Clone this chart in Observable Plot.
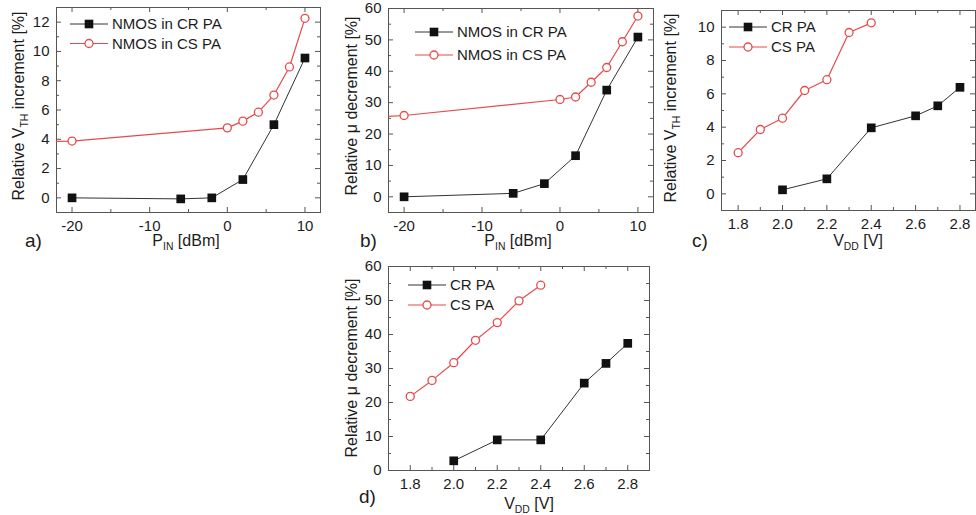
<!DOCTYPE html>
<html><head><meta charset="utf-8">
<script src="https://cdn.jsdelivr.net/npm/d3@7"></script>
<script src="https://cdn.jsdelivr.net/npm/@observablehq/plot@0.6"></script>
<style>
body{margin:0;background:#fff;}
#root{position:relative;width:976px;height:515px;overflow:hidden;font-family:"Liberation Sans",Arial,sans-serif;}
#root svg{position:absolute;}
</style></head><body><div id="root"></div>
<script>
// ---- data ----
const pinCR = [-20, -6, -2, 2, 6, 10];
const pinCS = [-30, -20, 0, 2, 4, 6, 8, 10];
const vthCR_pin = [0, -0.07, 0, 1.25, 5.0, 9.55];
const vthCS_pin = [3.75, 3.88, 4.78, 5.24, 5.85, 7.02, 8.94, 12.26];
const muCR_pin = [0, 1.1, 4.2, 13.1, 34.0, 50.9];
const muCS_pin = [24.5, 25.9, 31.0, 31.8, 36.5, 41.2, 49.4, 57.6];
const vddCR = [2.0, 2.2, 2.4, 2.6, 2.7, 2.8];
const vddCS = [1.8, 1.9, 2.0, 2.1, 2.2, 2.3, 2.4];
const vthCR_vdd = [0.24, 0.9, 3.96, 4.68, 5.28, 6.39];
const vthCS_vdd = [2.47, 3.86, 4.54, 6.2, 6.85, 9.68, 10.26];
const muCR_vdd = [2.85, 9.0, 9.0, 25.7, 31.5, 37.4];
const muCS_vdd = [21.8, 26.5, 31.7, 38.3, 43.5, 49.9, 54.5];

const pinTicks = [-20, -10, 0, 10];
const pinMinor = [-15, -5, 5];
const vddTicks = [1.8, 2.0, 2.2, 2.4, 2.6, 2.8];
const vddMinor = [1.9, 2.1, 2.3, 2.5, 2.7];
const vthTicksA = [0, 2, 4, 6, 8, 10, 12];
const vthMinorA = [1, 3, 5, 7, 9, 11];
const vthTicksC = [0, 2, 4, 6, 8, 10];
const vthMinorC = [1, 3, 5, 7, 9];
const muTicks = [0, 10, 20, 30, 40, 50, 60];
const muMinor = [5, 15, 25, 35, 45, 55];

const legendPin = ["NMOS in CR PA", "NMOS in CS PA"];
const legendVdd = ["CR PA", "CS PA"];

const BLACK = "#111", LINE = "#333", RED = "#e64a4a", AXIS = "#555", TXT = "#1c1c1c";
const FONT = '"Liberation Sans", Arial, sans-serif';
const root = document.getElementById("root");

const rows = (xs, ys) => xs.map((x, i) => ({x, y: ys[i]}));

function panel(o) {
  const mL = 45, mR = 3, mT = 3, mB = 35;
  const fw = o.right - o.left, fh = o.bottom - o.top;
  const cr = rows(o.xCR, o.yCR), cs = rows(o.xCS, o.yCS);
  const fmtX = o.xfmt || (d => String(d));
  const plot = Plot.plot({
    width: fw + mL + mR, height: fh + mT + mB,
    marginLeft: mL, marginRight: mR, marginTop: mT, marginBottom: mB,
    x: {domain: o.xd}, y: {domain: o.yd},
    style: {fontFamily: FONT, fontSize: "15px", color: TXT, background: "transparent", overflow: "visible"},
    marks: [
      Plot.axisX(o.xt, {tickSize: 0, tickPadding: 8, tickFormat: fmtX, label: null, fontSize: 15}),
      Plot.axisY(o.yt, {tickSize: 0, tickPadding: 7, tickFormat: d => String(d), label: null, fontSize: 15}),
      Plot.tickX(o.xt, {x: d => d, insetTop: fh - 5, stroke: AXIS}),
      Plot.tickX(o.xt, {x: d => d, insetBottom: fh - 5, stroke: AXIS}),
      Plot.tickX(o.xm, {x: d => d, insetTop: fh - 3, stroke: AXIS}),
      Plot.tickX(o.xm, {x: d => d, insetBottom: fh - 3, stroke: AXIS}),
      Plot.tickY(o.yt, {y: d => d, insetRight: fw - 5, stroke: AXIS}),
      Plot.tickY(o.yt, {y: d => d, insetLeft: fw - 5, stroke: AXIS}),
      Plot.tickY(o.ym, {y: d => d, insetRight: fw - 3, stroke: AXIS}),
      Plot.tickY(o.ym, {y: d => d, insetLeft: fw - 3, stroke: AXIS}),
      Plot.frame({stroke: AXIS, strokeWidth: 1}),
      Plot.line(cr, {x: "x", y: "y", stroke: LINE, strokeWidth: 1, clip: true}),
      Plot.line(cs, {x: "x", y: "y", stroke: RED, strokeWidth: 1.2, clip: true}),
      Plot.dot(cr, {x: "x", y: "y", symbol: "square", r: 4.9, fill: BLACK, stroke: "none", clip: true}),
      Plot.dot(cs, {x: "x", y: "y", r: 4, fill: "white", stroke: RED, strokeWidth: 1.3, clip: true})
    ]
  });
  plot.style.left = (o.left - mL) + "px";
  plot.style.top = (o.top - mT) + "px";
  root.appendChild(plot);
}

panel({left: 56, right: 320, top: 7, bottom: 212, xd: [-22, 12], yd: [-1, 13],
  xt: pinTicks, xm: pinMinor, yt: vthTicksA, ym: vthMinorA,
  xCR: pinCR, yCR: vthCR_pin, xCS: pinCS, yCS: vthCS_pin});
panel({left: 388, right: 653, top: 8, bottom: 212, xd: [-22, 12], yd: [-5, 60],
  xt: pinTicks, xm: pinMinor, yt: muTicks, ym: muMinor,
  xCR: pinCR, yCR: muCR_pin, xCS: pinCS, yCS: muCS_pin});
panel({left: 721, right: 975, top: 10, bottom: 210, xd: [1.725, 2.87], yd: [-1, 11],
  xt: vddTicks, xm: vddMinor, yt: vthTicksC, ym: vthMinorC, xfmt: d3.format(".1f"),
  xCR: vddCR, yCR: vthCR_vdd, xCS: vddCS, yCS: vthCS_vdd});
panel({left: 388, right: 649, top: 266, bottom: 470, xd: [1.7, 2.9], yd: [0, 60],
  xt: vddTicks, xm: vddMinor, yt: muTicks, ym: muMinor, xfmt: d3.format(".1f"),
  xCR: vddCR, yCR: muCR_vdd, xCS: vddCS, yCS: muCS_vdd});

// ---- overlay: titles, legends, panel letters ----
const ov = d3.select(root).append("svg").attr("width", 976).attr("height", 515)
  .style("left", "0px").style("top", "0px")
  .attr("font-family", FONT).attr("fill", TXT);

function subText(g, parts, size) {
  const t = g.append("text").attr("font-size", size);
  parts.forEach(([s, sub], i) => {
    const ts = t.append("tspan").text(s);
    if (sub) ts.attr("font-size", size * 0.65).attr("dy", size * 0.28);
    else if (i > 0 && parts[i - 1][1]) ts.attr("dy", -size * 0.28);
  });
  return t;
}
function yTitle(x, y, parts) {
  const g = ov.append("g").attr("transform", `translate(${x},${y}) rotate(-90)`);
  subText(g, parts, 16).attr("text-anchor", "middle");
}
function xTitle(x, y, parts) {
  const g = ov.append("g").attr("transform", `translate(${x},${y})`);
  subText(g, parts, 16).attr("text-anchor", "middle");
}
function letter(x, y, s) {
  ov.append("text").attr("x", x).attr("y", y).attr("font-size", 19).text(s);
}
function legend(x0, y0, gap, labels) {
  const g = ov.append("g");
  [0, 1].forEach(i => {
    const y = y0 + i * gap, c = i === 0 ? LINE : RED;
    g.append("line").attr("x1", x0).attr("x2", x0 + 38).attr("y1", y).attr("y2", y)
      .attr("stroke", c).attr("stroke-width", i === 0 ? 1 : 1.2);
    if (i === 0) g.append("rect").attr("x", x0 + 19 - 4.3).attr("y", y - 4.3).attr("width", 8.6).attr("height", 8.6).attr("fill", BLACK);
    else g.append("circle").attr("cx", x0 + 19).attr("cy", y).attr("r", 4).attr("fill", "white").attr("stroke", RED).attr("stroke-width", 1.3);
    g.append("text").attr("x", x0 + 42).attr("y", y + 5.3).attr("font-size", 15).text(labels[i]);
  });
}

yTitle(24, 106, [["Relative V"], ["TH", true], [" increment [%]"]]);
yTitle(357, 106, [["Relative \u03bc decrement [%]"]]);
yTitle(676, 108, [["Relative V"], ["TH", true], [" increment [%]"]]);
yTitle(357, 368, [["Relative \u03bc decrement [%]"]]);

xTitle(186, 246, [["P"], ["IN", true], [" [dBm]"]]);
xTitle(518, 246, [["P"], ["IN", true], [" [dBm]"]]);
xTitle(858, 246, [["V"], ["DD", true], [" [V]"]]);
xTitle(529, 509, [["V"], ["DD", true], [" [V]"]]);

letter(25, 247, "a)");
letter(360, 247, "b)");
letter(692, 247, "c)");
letter(359, 503, "d)");

legend(70, 24, 19.5, legendPin);
legend(415, 32, 23, legendPin);
legend(729, 27, 20, legendVdd);
legend(408, 285, 20, legendVdd);
</script></body></html>
